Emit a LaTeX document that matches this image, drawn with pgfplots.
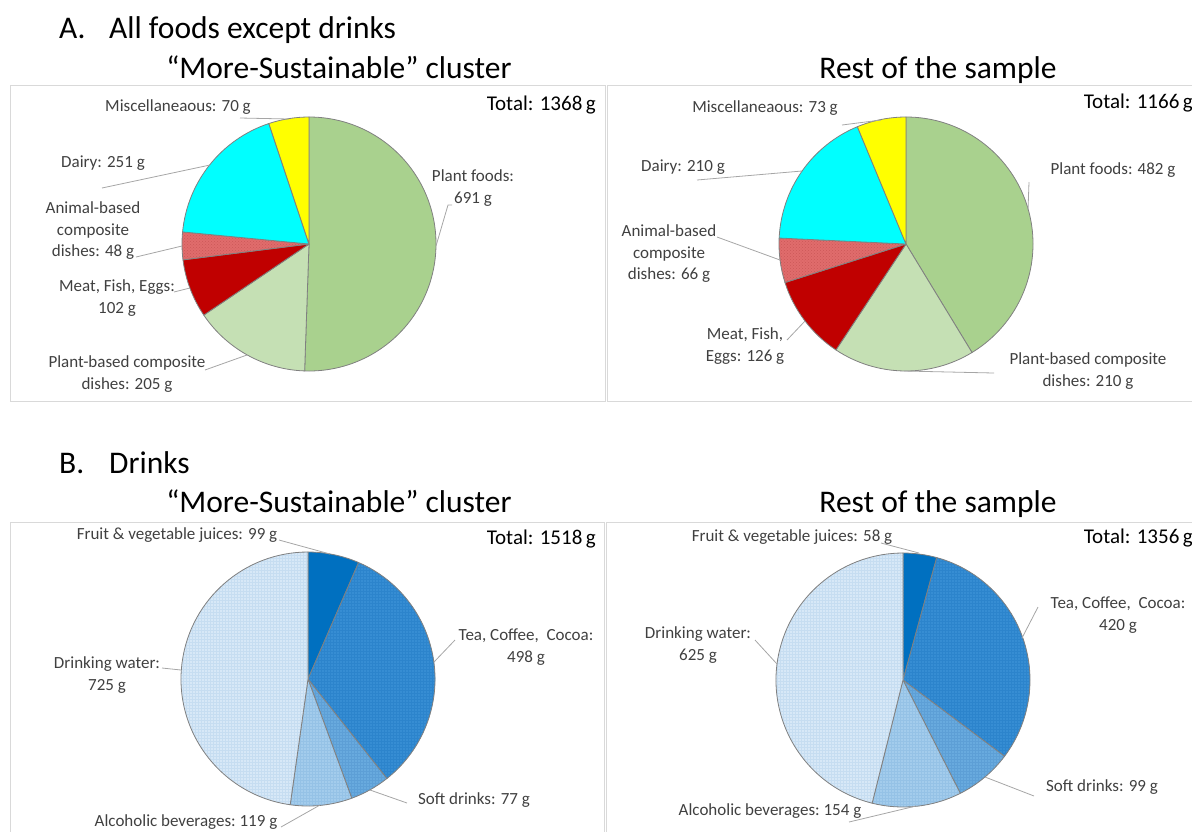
\documentclass[border=0pt]{standalone}
\usepackage{pgfplots}
\pgfplotsset{compat=1.18}
\usetikzlibrary{patterns}
\usepackage{fontspec}
\setmainfont{Carlito}

\definecolor{boxgray}{HTML}{D9D9D9}
\definecolor{slicegray}{HTML}{808080}
\definecolor{leadgray}{HTML}{A6A6A6}
\definecolor{labeltext}{HTML}{404040}
\definecolor{plantfoods}{HTML}{A9D18E}
\definecolor{plantcomp}{HTML}{C5E0B4}
\definecolor{meat}{HTML}{C00000}
\definecolor{animalcomp}{HTML}{E06C6C}
\definecolor{animaldot}{HTML}{CC5858}
\definecolor{dairy}{HTML}{00FFFF}
\definecolor{misc}{HTML}{FFFF00}
\definecolor{juice}{HTML}{0070C0}
\definecolor{tea}{HTML}{368DD3}
\definecolor{teagrid}{HTML}{2C84CC}
\definecolor{soft}{HTML}{68AADE}
\definecolor{softgrid}{HTML}{5D9FD6}
\definecolor{alcohol}{HTML}{A3CCEC}
\definecolor{alcoholgrid}{HTML}{95C2E6}
\definecolor{water}{HTML}{D7E8F7}
\definecolor{watergrid}{HTML}{C6DDF1}

\newcommand\lblfont{\fontsize{17}{21.5}\selectfont}
\newcommand\totfont{\fontsize{21}{25}\selectfont}
\newcommand\headfont{\fontsize{31.5}{38}\selectfont}

\tikzset{
  pnone/.style={},
  panimal/.style={postaction={pattern=crosshatch dots, pattern color=animaldot}},
  ptea/.style={postaction={pattern=grid, pattern color=teagrid}},
  psoft/.style={postaction={pattern=grid, pattern color=softgrid}},
  palcohol/.style={postaction={pattern=grid, pattern color=alcoholgrid}},
  pwater/.style={postaction={pattern=grid, pattern color=watergrid}},
}

% pie: centre x, centre y (axis units = pixels), radius (pt), list value/colour/texture clockwise from 12 o'clock
\newcommand{\drawpie}[4]{%
  \pgfplotsextra{%
    \gdef\pietotal{0}%
    \foreach \v/\c/\p in {#4}{\pgfmathsetmacro\tmp{\pietotal+\v}\xdef\pietotal{\tmp}}%
    \gdef\pieacc{0}%
    \foreach \v/\c/\p in {#4}{%
      \pgfmathsetmacro\aA{90-360*(\pieacc/\pietotal)}%
      \pgfmathsetmacro\nacc{\pieacc+\v}%
      \pgfmathsetmacro\aB{90-360*(\nacc/\pietotal)}%
      \path[fill=\c, \p]
        (axis cs:#1,#2) -- ++(\aA:#3pt) arc[start angle=\aA, end angle=\aB, radius=#3pt] -- cycle;%
      \draw[draw=slicegray, line width=0.8pt, line join=round]
        (axis cs:#1,#2) -- ++(\aA:#3pt) arc[start angle=\aA, end angle=\aB, radius=#3pt] -- cycle;%
      \xdef\pieacc{\nacc}%
    }%
  }%
}

\pgfplotsset{
  panel/.style={scale only axis, anchor=center, ticks=none,
    axis line style={draw=boxgray, line width=1pt}, clip=false, y dir=reverse},
}
\tikzset{
  lab/.style={font=\lblfont, text=labeltext, align=center, inner sep=0pt},
  tot/.style={font=\totfont, anchor=east, inner sep=0pt},
  lead/.style={draw=leadgray, line width=0.8pt},
  head/.style={font=\headfont, inner sep=0pt},
}

\begin{document}
\begin{tikzpicture}[x=1pt, y=-1pt]
\useasboundingbox (0,0) rectangle (1192,831);

% headings
\node[head, anchor=base west] at (59,38) {A.};
\node[head, anchor=base west] at (109,38) {All foods except drinks};
\node[head, anchor=base] at (339,78) {“More-Sustainable” cluster};
\node[head, anchor=base] at (938,78) {Rest of the sample};
\node[head, anchor=base west] at (59,473) {B.};
\node[head, anchor=base west] at (109,473) {Drinks};
\node[head, anchor=base] at (339,512) {“More-Sustainable” cluster};
\node[head, anchor=base] at (938,512) {Rest of the sample};

% ---------- A, More-Sustainable ----------
\begin{axis}[panel, at={(307.5,243)}, width=595pt, height=316pt,
  xmin=10, xmax=605, ymin=85, ymax=401]
\drawpie{309}{244}{127}{691/plantfoods/pnone, 205/plantcomp/pnone, 102/meat/pnone, 48/animalcomp/panimal, 251/dairy/pnone, 70/misc/pnone}
\draw[lead] (axis cs:240,118) -- (axis cs:289,119);
\draw[lead] (axis cs:102,188) -- (axis cs:210,165);
\draw[lead] (axis cs:136,257) -- (axis cs:182,246);
\draw[lead] (axis cs:174,292) -- (axis cs:190,288);
\draw[lead] (axis cs:205,370) -- (axis cs:247,355);
\draw[lead] (axis cs:436,246) -- (axis cs:448,205) -- (axis cs:452,205);
\node[lab] at (axis cs:178,107) {Miscellaneaous: 70 g};
\node[lab] at (axis cs:103,163) {Dairy: 251 g};
\node[lab] at (axis cs:93,231) {Animal-based\\composite\\dishes: 48 g};
\node[lab] at (axis cs:117,298) {Meat, Fish, Eggs:\\102 g};
\node[lab] at (axis cs:127,374) {Plant-based composite\\dishes: 205 g};
\node[lab] at (axis cs:473,188) {Plant foods:\\691 g};
\node[tot] at (axis cs:596,105) {Total: 1368\,g};
\end{axis}

% ---------- A, Rest ----------
\begin{axis}[panel, at={(903.5,243)}, width=593pt, height=316pt,
  xmin=607, xmax=1200, ymin=85, ymax=401]
\drawpie{906}{244}{127}{482/plantfoods/pnone, 210/plantcomp/pnone, 126/meat/pnone, 66/animalcomp/panimal, 210/dairy/pnone, 73/misc/pnone}
\draw[lead] (axis cs:842,125) -- (axis cs:881,120);
\draw[lead] (axis cs:697,180) -- (axis cs:802,171);
\draw[lead] (axis cs:717,237) -- (axis cs:780,260);
\draw[lead] (axis cs:787,340) -- (axis cs:805,321);
\draw[lead] (axis cs:904,371) -- (axis cs:994,373);
\draw[lead] (axis cs:1028,210) -- (axis cs:1029,182);
\node[lab] at (axis cs:765,108) {Miscellaneaous: 73 g};
\node[lab] at (axis cs:683,167) {Dairy: 210 g};
\node[lab] at (axis cs:669,254) {Animal-based\\composite\\dishes: 66 g};
\node[lab] at (axis cs:745,346) {Meat, Fish,\\Eggs: 126 g};
\node[lab] at (axis cs:1088,371) {Plant-based composite\\dishes: 210 g};
\node[lab] at (axis cs:1113,170) {Plant foods: 482 g};
\node[tot] at (axis cs:1193,103) {Total: 1166\,g};
\end{axis}

% ---------- B, More-Sustainable ----------
\begin{axis}[panel, at={(307,681)}, width=594pt, height=318pt,
  xmin=10, xmax=604, ymin=522, ymax=840]
\drawpie{308}{679}{127}{99/juice/pnone, 498/tea/ptea, 77/soft/psoft, 119/alcohol/palcohol, 725/water/pwater}
\draw[lead] (axis cs:279,540) -- (axis cs:330,554);
\draw[lead] (axis cs:455,640) -- (axis cs:434,662);
\draw[lead] (axis cs:162,668) -- (axis cs:181,670);
\draw[lead] (axis cs:407,803) -- (axis cs:370,790);
\draw[lead] (axis cs:281,827) -- (axis cs:320,805);
\node[lab] at (axis cs:177,535) {Fruit \& vegetable juices: 99 g};
\node[lab] at (axis cs:526,647) {Tea, Coffee,\ \ Cocoa:\\498 g};
\node[lab] at (axis cs:107,675) {Drinking water:\\725 g};
\node[lab] at (axis cs:474,800) {Soft drinks: 77 g};
\node[lab] at (axis cs:186,822) {Alcoholic beverages:\ 119 g};
\node[tot] at (axis cs:596,539) {Total: 1518\,g};
\end{axis}

% ---------- B, Rest ----------
\begin{axis}[panel, at={(903,681)}, width=594pt, height=318pt,
  xmin=606, xmax=1200, ymin=522, ymax=840]
\drawpie{903}{680}{127}{58/juice/pnone, 420/tea/ptea, 99/soft/psoft, 154/alcohol/palcohol, 625/water/pwater}
\draw[lead] (axis cs:881,543) -- (axis cs:919,553);
\draw[lead] (axis cs:1038,607) -- (axis cs:1022,638);
\draw[lead] (axis cs:755,640) -- (axis cs:777,664);
\draw[lead] (axis cs:1034,796) -- (axis cs:985,777);
\draw[lead] (axis cs:849,822) -- (axis cs:916,806);
\node[lab] at (axis cs:792,537) {Fruit \& vegetable juices: 58 g};
\node[lab] at (axis cs:1118,615) {Tea, Coffee,\ \ Cocoa:\\420 g};
\node[lab] at (axis cs:698,645) {Drinking water:\\625 g};
\node[lab] at (axis cs:1102,787) {Soft drinks: 99 g};
\node[lab] at (axis cs:770,811) {Alcoholic beverages:\ 154 g};
\node[tot] at (axis cs:1193,538) {Total: 1356\,g};
\end{axis}
\end{tikzpicture}
\end{document}
